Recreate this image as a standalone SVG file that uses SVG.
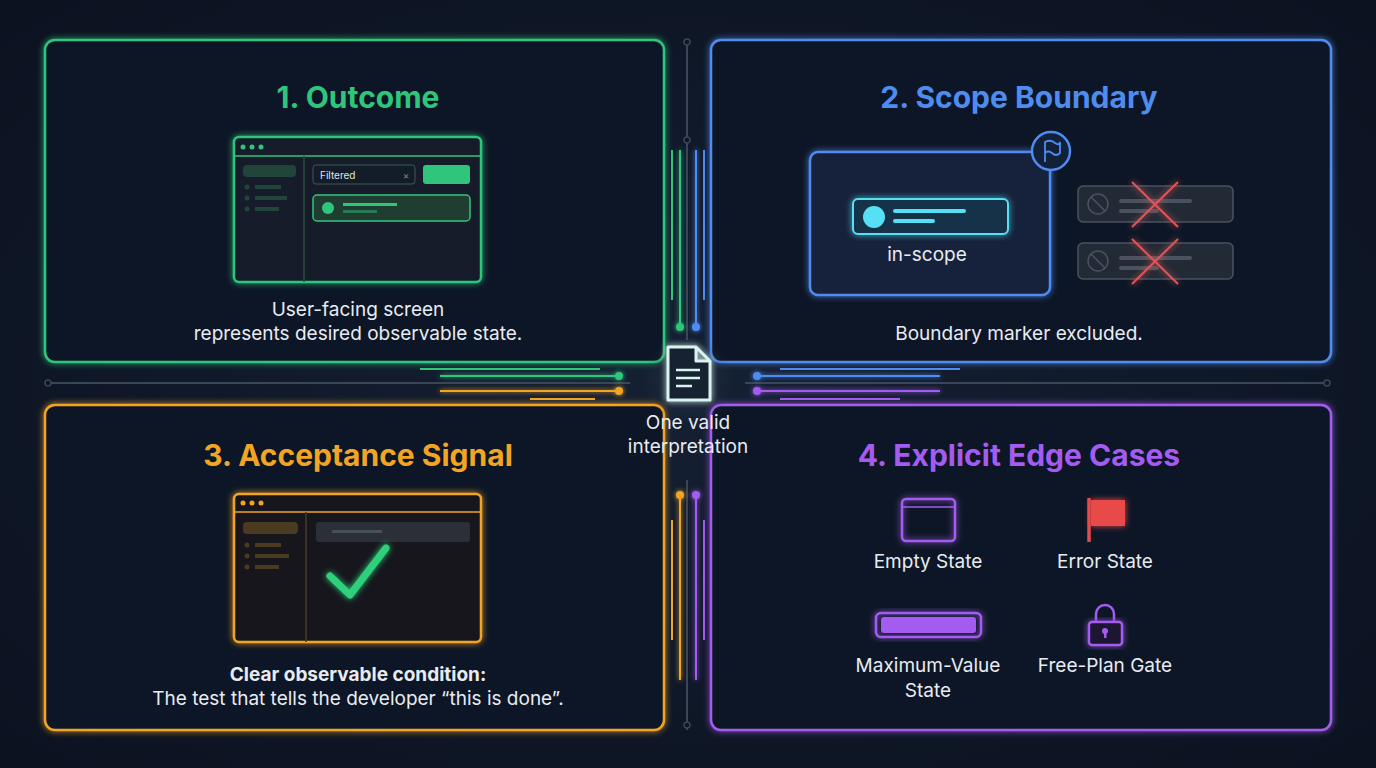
<svg xmlns="http://www.w3.org/2000/svg" width="1376" height="768" viewBox="0 0 1376 768">
<defs>
<style>
text{font-family:Inter,"Noto Sans",sans-serif;}
.t{font-size:30px;font-weight:700;text-anchor:middle}
.d{font-size:19px;fill:#e8ecf2;text-anchor:middle}
.ln{fill:none;stroke-width:2}
.g{stroke:#2fc67c}.b{stroke:#4f8cf0}.o{stroke:#f2a524}.p{stroke:#a45cf0}.gr{stroke:#3a4658}
.panel{fill:#101827;stroke-width:2.5}
</style>
<filter id="glow" x="-20%" y="-20%" width="140%" height="140%"><feGaussianBlur stdDeviation="3" result="b"/><feMerge><feMergeNode in="b"/><feMergeNode in="SourceGraphic"/></feMerge></filter>
<filter id="lg" filterUnits="userSpaceOnUse" x="0" y="0" width="1376" height="768"><feGaussianBlur stdDeviation="2.5" result="b"/><feMerge><feMergeNode in="b"/><feMergeNode in="SourceGraphic"/></feMerge></filter>
<radialGradient id="bg" cx="50%" cy="50%" r="70%"><stop offset="0" stop-color="#152033"/><stop offset="1" stop-color="#0b1220"/></radialGradient>
<radialGradient id="halo" cx="50%" cy="50%" r="50%"><stop offset="0" stop-color="#2a3a4a" stop-opacity="0.7"/><stop offset="1" stop-color="#2a3a4a" stop-opacity="0"/></radialGradient>
</defs>
<rect width="1376" height="768" fill="url(#bg)"/>
<g id="connectors">
<line class="ln gr" x1="687" y1="40" x2="687" y2="340"/>
<line class="ln gr" x1="687" y1="480" x2="687" y2="730"/>
<line class="ln gr" x1="45" y1="383" x2="630" y2="383"/>
<line class="ln gr" x1="745" y1="383" x2="1328" y2="383"/>
<circle cx="687" cy="42" r="3" fill="#0e1624" stroke="#3a4658" stroke-width="1.5"/>
<circle cx="687" cy="140" r="3" fill="#0e1624" stroke="#3a4658" stroke-width="1.5"/>
<circle cx="687" cy="725" r="3" fill="#0e1624" stroke="#3a4658" stroke-width="1.5"/>
<circle cx="48" cy="383" r="3" fill="#0e1624" stroke="#3a4658" stroke-width="1.5"/>
<circle cx="1327" cy="383" r="3" fill="#0e1624" stroke="#3a4658" stroke-width="1.5"/>
<g filter="url(#lg)">
<path class="ln g" d="M680 150 V326"/><circle cx="680" cy="327" r="4" fill="#2fc67c"/>
<path class="ln b" d="M696 150 V326"/><circle cx="696" cy="327" r="4" fill="#4f8cf0"/>
<path class="ln g" d="M440 376 H618"/><circle cx="619" cy="376" r="4" fill="#2fc67c"/>
<path class="ln o" d="M440 391 H618"/><circle cx="619" cy="391" r="4" fill="#f2a524"/>
<path class="ln b" d="M757 376 H940"/><circle cx="757" cy="376" r="4" fill="#4f8cf0"/>
<path class="ln p" d="M757 391 H940"/><circle cx="757" cy="391" r="4" fill="#a45cf0"/>
<path class="ln o" d="M680 496 V680"/><circle cx="680" cy="495" r="4" fill="#f2a524"/>
<path class="ln p" d="M696 496 V680"/><circle cx="696" cy="495" r="4" fill="#a45cf0"/>
</g>
<path class="ln g" d="M672 150 V300"/><path class="ln b" d="M704 150 V300"/>
<path class="ln g" d="M420 369 H600"/><path class="ln o" d="M530 399 H595"/>
<path class="ln b" d="M780 369 H960"/><path class="ln p" d="M780 399 H900"/>
<path class="ln o" d="M672 520 V640"/><path class="ln p" d="M704 520 V640"/>
</g>
<g id="outcome">
<rect x="45" y="40" width="619" height="322" rx="10" class="panel g" filter="url(#glow)"/>
<text x="358" y="108" class="t" fill="#2fc67c">1. Outcome</text>
<rect x="234" y="137" width="247" height="145" rx="5" fill="#131d2a" stroke="#2fc67c" stroke-width="2.5" filter="url(#glow)"/>
<line x1="234" y1="156" x2="481" y2="156" stroke="#2fc67c" stroke-width="1.5"/>
<circle cx="243" cy="147" r="2.5" fill="#2fc67c"/><circle cx="252" cy="147" r="2.5" fill="#2fc67c"/><circle cx="261" cy="147" r="2.5" fill="#2fc67c"/>
<line x1="304" y1="156" x2="304" y2="282" stroke="#2a4a3e" stroke-width="1.5"/>
<rect x="243" y="165" width="53" height="12" rx="4" fill="#21453a"/>
<g fill="#21453a"><circle cx="247" cy="187" r="2.5"/><circle cx="247" cy="198" r="2.5"/><circle cx="247" cy="209" r="2.5"/><rect x="255" y="185" width="26" height="4"/><rect x="255" y="196" width="32" height="4"/><rect x="255" y="207" width="24" height="4"/></g>
<rect x="313" y="165" width="102" height="19" rx="3" fill="#131d2a" stroke="#3a5a50"/>
<text x="320" y="179" font-size="10" fill="#dfe6e3">Filtered</text>
<text x="406" y="179" font-size="10" fill="#7a8a88" text-anchor="middle">×</text>
<rect x="423" y="165" width="47" height="19" rx="3" fill="#2fc67c"/>
<rect x="313" y="195" width="157" height="26" rx="4" fill="#1f3d30" stroke="#2fc67c" stroke-width="1.5"/>
<circle cx="328" cy="208" r="6" fill="#2fc67c"/>
<rect x="343" y="203" width="54" height="3" fill="#2fc67c"/><rect x="343" y="210" width="34" height="3" fill="#2a7a55"/>
<text x="358" y="316" class="d">User-facing screen</text>
<text x="358" y="340" class="d">represents desired observable state.</text>
</g>
<g id="scope">
<rect x="711" y="40" width="620" height="322" rx="10" class="panel b" filter="url(#glow)"/>
<text x="1019" y="108" class="t" fill="#4f8cf0">2. Scope Boundary</text>
<rect x="810" y="152" width="240" height="143" rx="8" fill="#12203a" stroke="#4f8cf0" stroke-width="2.5" filter="url(#glow)"/>
<circle cx="1051" cy="151" r="19" fill="#12203a" stroke="#4f8cf0" stroke-width="2.5"/>
<path d="M1045 162 V142 Q1051 139 1055 143 Q1059 146 1060 142 V153 Q1056 157 1052 153 Q1048 150 1045 153" fill="none" stroke="#4f8cf0" stroke-width="1.8"/>
<rect x="853" y="199" width="155" height="35" rx="5" fill="#16324a" stroke="#56e0f5" stroke-width="2" filter="url(#glow)"/>
<circle cx="874" cy="217" r="11" fill="#56e0f5"/>
<rect x="893" y="209" width="73" height="4" rx="2" fill="#56e0f5"/><rect x="893" y="219" width="42" height="4" rx="2" fill="#56e0f5"/>
<text x="927" y="261" class="d">in-scope</text>
<g fill="#222a36" stroke="#4a5260" stroke-width="1.5">
<rect x="1078" y="186" width="155" height="36" rx="5"/><rect x="1078" y="243" width="155" height="36" rx="5"/>
<circle cx="1098" cy="204" r="10"/><circle cx="1098" cy="261" r="10"/></g>
<path d="M1091 197 L1105 211 M1091 254 L1105 268" stroke="#4a5260" stroke-width="1.5"/>
<g fill="#4a5260"><rect x="1119" y="199" width="73" height="4" rx="2"/><rect x="1119" y="209" width="40" height="4" rx="2"/><rect x="1119" y="256" width="73" height="4" rx="2"/><rect x="1119" y="266" width="40" height="4" rx="2"/></g>
<path d="M1132 182 L1178 227 M1178 182 L1132 227 M1132 239 L1178 284 M1178 239 L1132 284" stroke="#e05555" stroke-width="2" filter="url(#glow)"/>
<text x="1019" y="340" class="d">Boundary marker excluded.</text>
</g>
<g id="acceptance">
<rect x="45" y="405" width="619" height="325" rx="10" class="panel o" filter="url(#glow)"/>
<text x="358" y="466" class="t" fill="#f2a524">3. Acceptance Signal</text>
<rect x="234" y="494" width="247" height="148" rx="5" fill="#17191f" stroke="#f2a524" stroke-width="2.5" filter="url(#glow)"/>
<line x1="234" y1="512" x2="481" y2="512" stroke="#f2a524" stroke-width="1.5"/>
<circle cx="243" cy="503" r="2.5" fill="#f2a524"/><circle cx="252" cy="503" r="2.5" fill="#f2a524"/><circle cx="261" cy="503" r="2.5" fill="#f2a524"/>
<line x1="306" y1="512" x2="306" y2="642" stroke="#4a3a20" stroke-width="1.5"/>
<rect x="243" y="522" width="55" height="12" rx="4" fill="#4a3a20"/>
<g fill="#4a3a20"><circle cx="247" cy="545" r="2.5"/><circle cx="247" cy="556" r="2.5"/><circle cx="247" cy="567" r="2.5"/><rect x="255" y="543" width="26" height="4"/><rect x="255" y="554" width="34" height="4"/><rect x="255" y="565" width="24" height="4"/></g>
<rect x="316" y="522" width="154" height="20" rx="3" fill="#2a2f38"/>
<rect x="332" y="530" width="50" height="3" fill="#4a5058"/>
<path d="M330 576 L350 595 L386 548" fill="none" stroke="#2fd07c" stroke-width="7" stroke-linecap="round" stroke-linejoin="round" filter="url(#glow)"/>
<text x="358" y="681" class="d" font-weight="700">Clear observable condition:</text>
<text x="358" y="705" class="d">The test that tells the developer “this is done”.</text>
</g>
<g id="edge">
<rect x="711" y="405" width="620" height="325" rx="10" class="panel p" filter="url(#glow)"/>
<text x="1019" y="466" class="t" fill="#a45cf0">4. Explicit Edge Cases</text>
<rect x="902" y="499" width="53" height="42" rx="4" fill="none" stroke="#a45cf0" stroke-width="2.5" filter="url(#glow)"/>
<line x1="902" y1="507" x2="955" y2="507" stroke="#a45cf0" stroke-width="1.5"/>
<text x="928" y="568" class="d">Empty State</text>
<path d="M1089 498 V542" stroke="#e84a4a" stroke-width="3.5"/>
<path d="M1091 500 H1125 V526 H1091 Z" fill="#e84a4a" filter="url(#glow)"/>
<text x="1105" y="568" class="d">Error State</text>
<rect x="876" y="613" width="105" height="24" rx="5" fill="none" stroke="#a45cf0" stroke-width="2.5" filter="url(#glow)"/>
<rect x="881" y="617" width="95" height="16" rx="3" fill="#a45cf0"/>
<text x="928" y="672" class="d">Maximum-Value</text>
<text x="928" y="697" class="d">State</text>
<path d="M1096 622 V614 A9 9 0 0 1 1114 614 V622" fill="none" stroke="#a45cf0" stroke-width="2.5"/>
<rect x="1089" y="622" width="33" height="23" rx="3" fill="#1a1530" stroke="#a45cf0" stroke-width="2.5" filter="url(#glow)"/>
<circle cx="1105" cy="631" r="3" fill="#a45cf0"/><rect x="1104" y="632" width="2.5" height="6" fill="#a45cf0"/>
<text x="1105" y="672" class="d">Free-Plan Gate</text>
</g>
<g id="center">
<circle cx="688" cy="380" r="45" fill="url(#halo)"/>
<path d="M668 347 H696 L710 361 V400 H668 Z M696 347 V361 H710" fill="#182232" stroke="#d8f4f0" stroke-width="3" stroke-linejoin="round" filter="url(#glow)"/>
<path d="M676 370 H700 M676 378 H700 M676 386 H692" stroke="#d8f4f0" stroke-width="2.5"/>
<text x="688" y="429" class="d">One valid</text>
<text x="688" y="453" class="d">interpretation</text>
</g>
</svg>
